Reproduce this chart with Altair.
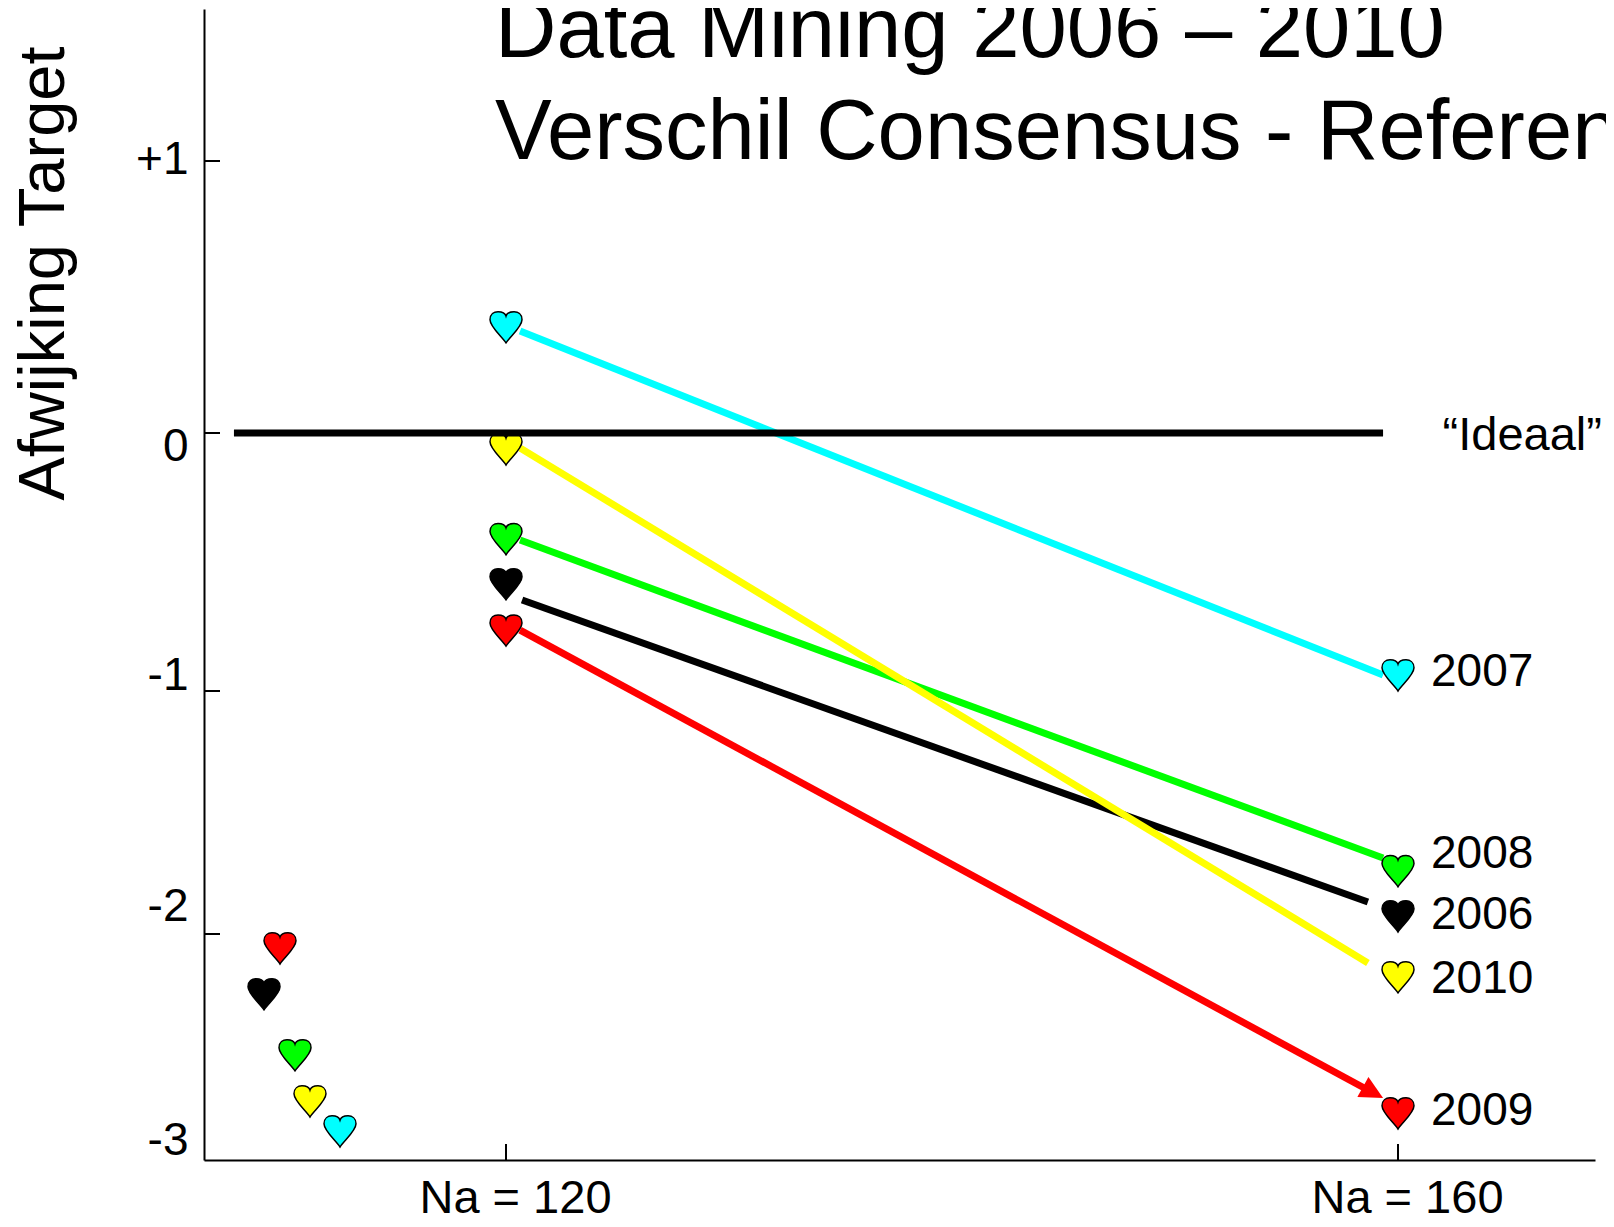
import altair as alt
import pandas as pd

# ---------------- data ----------------
years = ["2006", "2007", "2008", "2009", "2010"]
colors = ["#000000", "#00FFFF", "#00FF00", "#FF0000", "#FFFF00"]

dev_120 = [-0.585, 0.39, -0.41, -0.764, -0.062]
dev_160 = [-1.926, -0.938, -1.74, -2.792, -2.19]

line_x_start = [120.72, 120.63, 120.63, 120.63, 120.63]
line_y_start = [-0.647, 0.375, -0.415, -0.764, -0.058]
line_x_end = [158.65, 159.33, 159.33, 158.57, 158.65]
line_y_end = [-1.868, -0.938, -1.687, -2.686, -2.128]

arrow_x = [159.33]
arrow_y = [-2.726]

label_y = [-1.922, -0.926, -1.671, -2.783, -2.199]

key_years = ["2009", "2006", "2008", "2010", "2007"]
key_x = [109.865, 109.148, 110.538, 111.21, 112.556]
key_y = [-2.062, -2.265, -2.535, -2.739, -2.872]

ideal_x = [107.8]
ideal_x2 = [159.33]
ideal_y = [0]
ideal_label = ["\u201cIdeaal\u201d"]
ideal_label_x = [162.0]

y_ticks = [1, 0, -1, -2, -3]
y_tick_marks = [1, 0, -1, -2]
x_ticks = [120, 160]

title_lines = ["Data Mining 2006 \u2013 2010", "Verschil Consensus - Referentie"]
y_title = "Afwijking Target"

# ---------------- styling ----------------
FONT = "Liberation Sans"
HEART = ("M0,1 C-0.25,0.6 -1,0 -1,-0.45 C-1,-0.8 -0.75,-0.95 -0.5,-0.95 "
         "C-0.25,-0.95 -0.05,-0.85 0,-0.68 C0.05,-0.85 0.25,-0.95 0.5,-0.95 "
         "C0.75,-0.95 1,-0.8 1,-0.45 C1,0 0.25,0.6 0,1 Z")
ARROW = "M0,0 L-2,-1 L-2,1 Z"

W, H = 1391, 1151

xs = alt.Scale(domain=[106.457, 168.834], nice=False, zero=False)
ys = alt.Scale(domain=[-3, -2, -1, 0, 1, 1.53],
               range=[1151, 925, 682, 424, 152, 0], nice=False, zero=False)
color_scale = alt.Scale(domain=years, range=colors)

xaxis = alt.Axis(values=x_ticks, labelExpr="'Na = ' + datum.value",
                 ticks=False, tickSize=0, grid=False,
                 domainColor="black", domainWidth=2,
                 labelFont=FONT, labelFontSize=47, labelColor="black",
                 labelPadding=52, labelBaseline="alphabetic", labelOffset=9,
                 labelLimit=600,
                 labelFlush=False, labelOverlap=False, title=None)

yaxis = alt.Axis(values=y_ticks,
                 labelExpr="datum.value > 0 ? '+' + datum.value : '' + datum.value",
                 ticks=False, tickSize=0, grid=False,
                 domainColor="black", domainWidth=2,
                 labelFont=FONT, labelFontSize=46, labelColor="black",
                 labelPadding=16, labelBaseline="middle", labelAlign="right",
                 labelLimit=600,
                 labelOffset={"condition": [
                     {"test": "datum.value == 1", "value": -2},
                     {"test": "datum.value == 0", "value": 13},
                     {"test": "datum.value == -1", "value": -16},
                     {"test": "datum.value == -2", "value": -28}],
                     "value": -20},
                 labelFlush=False, labelOverlap=False,
                 title=y_title, titleFont=FONT, titleFontSize=65,
                 titleFontWeight="normal", titleColor="black",
                 titleAngle=270, titleX=-141, titleY=264,
                 titleAlign="center", titleBaseline="alphabetic",
                 titleLimit=1000)


def X(f):
    return alt.X(f, type="quantitative", scale=xs, axis=xaxis)


def Y(f):
    return alt.Y(f, type="quantitative", scale=ys, axis=yaxis)


# ---------------- layers ----------------
yt = alt.Chart(pd.DataFrame({"v": y_tick_marks})).mark_rule(
    color="black", strokeWidth=2).encode(
    y=Y("v"), x=alt.value(0), x2=alt.value(16))

xt = alt.Chart(pd.DataFrame({"v": x_ticks})).mark_rule(
    color="black", strokeWidth=2).encode(
    x=X("v"), y=alt.value(H), y2=alt.value(H - 16))

lines_df = pd.DataFrame({"year": years, "x1": line_x_start, "y1": line_y_start,
                         "x2": line_x_end, "y2": line_y_end})
lines = alt.Chart(lines_df).mark_rule(strokeWidth=7).encode(
    x=X("x1"), y=Y("y1"), x2="x2", y2="y2",
    color=alt.Color("year:N", scale=color_scale, legend=None))

arrow = alt.Chart(pd.DataFrame({"x": arrow_x, "y": arrow_y})).mark_point(
    shape=ARROW, size=529, filled=True, color="#FF0000", angle=28.8,
    opacity=1, strokeWidth=0).encode(x=X("x"), y=Y("y"))

hearts_df = pd.concat([
    pd.DataFrame({"year": years, "na": [120] * 5, "dev": dev_120}),
    pd.DataFrame({"year": years, "na": [160] * 5, "dev": dev_160}),
    pd.DataFrame({"year": key_years, "na": key_x, "dev": key_y}),
], ignore_index=True)
hearts = alt.Chart(hearts_df).mark_point(
    shape=HEART, size=1024, filled=True, opacity=1, fillOpacity=1,
    stroke="black", strokeWidth=1.5).encode(
    x=X("na"), y=Y("dev"),
    fill=alt.Fill("year:N", scale=color_scale, legend=None),
    stroke=alt.value("black"))

ideal = alt.Chart(pd.DataFrame({"x1": ideal_x, "x2": ideal_x2, "y": ideal_y})).mark_rule(
    color="black", strokeWidth=7).encode(x=X("x1"), x2="x2", y=Y("y"))

labels_df = pd.DataFrame({"year": years, "na": [160] * 5, "ly": label_y})
labels = alt.Chart(labels_df).mark_text(
    align="left", baseline="middle", dx=33, font=FONT, fontSize=46,
    color="black").encode(x=X("na"), y=Y("ly"), text="year:N")

ideal_text = alt.Chart(pd.DataFrame({"t": ideal_label, "x": ideal_label_x,
                                     "y": ideal_y})).mark_text(
    align="left", baseline="middle", dy=2.5, font=FONT, fontSize=47,
    color="black").encode(x=X("x"), y=Y("y"), text="t:N")

title1 = alt.Chart(pd.DataFrame({"t": [title_lines[0]]})).mark_text(
    align="left", baseline="alphabetic", font=FONT, fontSize=85,
    color="black").encode(x=alt.value(291), y=alt.value(48), text="t:N")
title2 = alt.Chart(pd.DataFrame({"t": [title_lines[1]]})).mark_text(
    align="left", baseline="alphabetic", font=FONT, fontSize=85,
    color="black").encode(x=alt.value(291), y=alt.value(150), text="t:N")

chart = alt.layer(yt, xt, lines, arrow, hearts, ideal, labels, ideal_text,
                  title1, title2).properties(
    width=W, height=H,
    padding={"left": 196, "top": 1, "right": 11, "bottom": 53},
    autosize=alt.AutoSizeParams(type="none"),
).configure_view(stroke=None)

chart.save("out.html", embed_options={"renderer": "svg", "actions": False})
